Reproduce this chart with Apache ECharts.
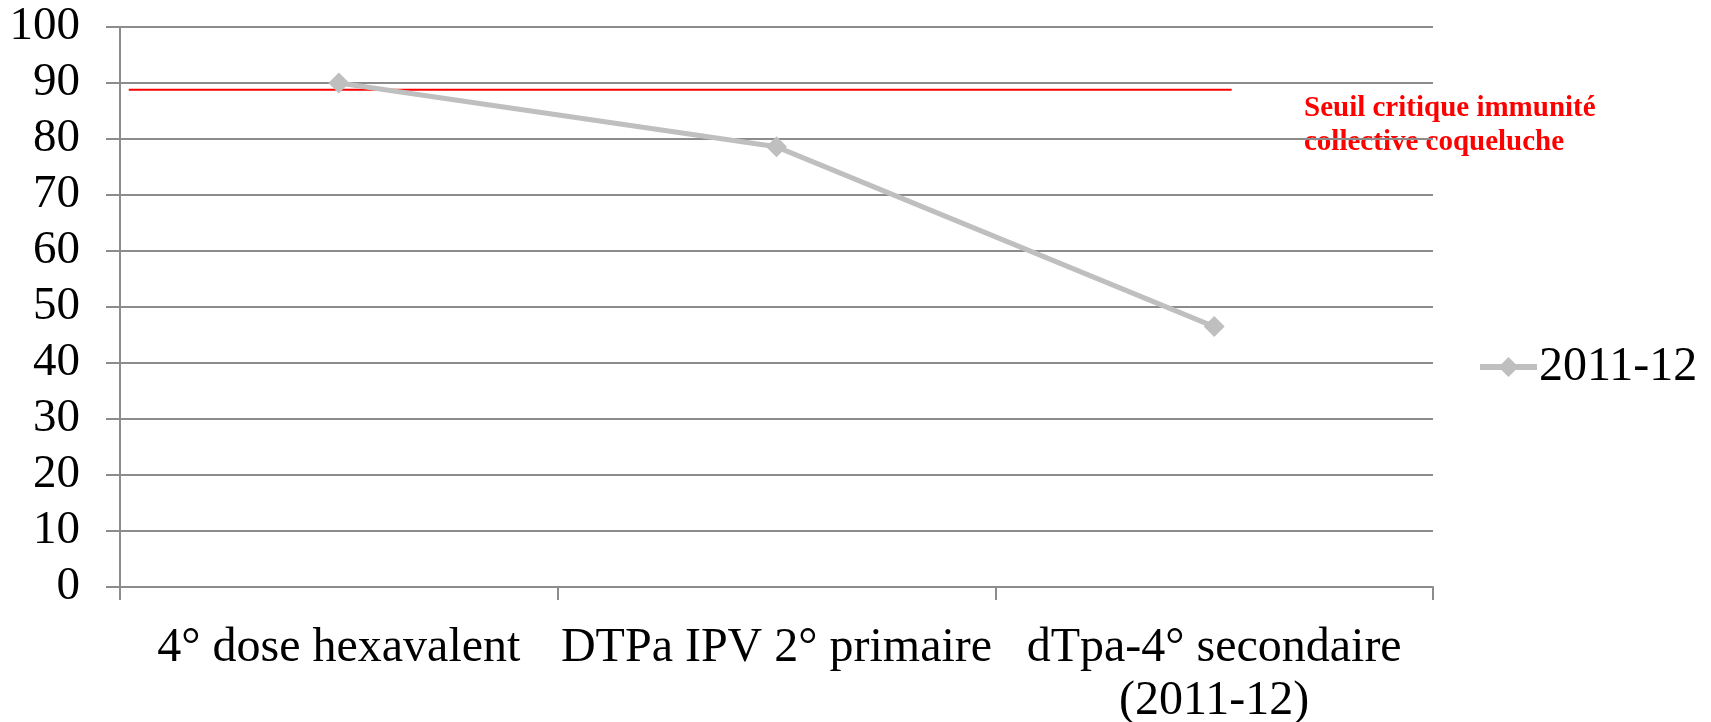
<!DOCTYPE html>
<html>
<head>
<meta charset="utf-8">
<style>
  html, body { margin: 0; padding: 0; background: #fff; }
  #chart { width: 1711px; height: 722px; }
</style>
<script src="https://cdn.jsdelivr.net/npm/echarts@6/dist/echarts.min.js"></script>
</head>
<body>
<div id="chart"></div>
<script>
// valeurs
const categories = ['4° dose hexavalent', 'DTPa IPV 2° primaire', 'dTpa-4° secondaire\n(2011-12)'];
const seriesName = '2011-12';
const coverage = [90, 78.6, 46.5];
const threshold = 88.8;          // seuil critique
const thresholdSpan = [0.02, 2.54]; // début / fin du trait rouge, en unités de catégorie
const thresholdLabel = 'Seuil critique immunité\ncollective coqueluche';

const FONT = "'Liberation Serif', 'Times New Roman', serif";
const GRID_COLOR = '#8c8c8c';

const chart = echarts.init(document.getElementById('chart'));

const option = {
	animation: false,
	backgroundColor: '#fff',
	textStyle: { fontFamily: FONT },
	grid: { left: 120, right: 278, top: 27, bottom: 135, containLabel: false, outerBoundsMode: 'none' },
	legend: {
		data: [seriesName],
		left: 1472,
		top: 338,
		itemWidth: 57,
		itemHeight: 25,
		itemGap: 0,
		lineStyle: { width: 6 },
		textStyle: { fontFamily: FONT, fontSize: 48, color: '#000', padding: [0, 0, 0, -3] }
	},
	xAxis: [{
		type: 'category',
		data: categories,
		boundaryGap: true,
		axisLine: { lineStyle: { color: GRID_COLOR, width: 2 } },
		axisTick: { show: true, length: 13, lineStyle: { color: GRID_COLOR, width: 2 } },
		axisLabel: {
			interval: 0,
			margin: 35,
			fontFamily: FONT,
			fontSize: 48,
			lineHeight: 53,
			color: '#000'
		}
	}, {
		type: 'value',
		min: 0,
		max: 3,
		show: false
	}],
	yAxis: {
		type: 'value',
		min: 0,
		max: 100,
		interval: 10,
		axisLine: { show: true, lineStyle: { color: GRID_COLOR, width: 2 } },
		axisTick: { show: true, length: 14, lineStyle: { color: GRID_COLOR, width: 2 } },
		splitLine: { lineStyle: { color: GRID_COLOR, width: 2 } },
		axisLabel: { margin: 40, fontFamily: FONT, fontSize: 47, color: '#000' }
	},
	graphic: [{
		type: 'text',
		left: 1304,
		top: 92,
		style: {
			text: thresholdLabel,
			fill: '#ff0000',
			font: "bold 29px 'Liberation Serif', 'Times New Roman', serif",
			lineHeight: 34
		}
	}],
	series: [{
		name: 'seuil',
		type: 'line',
		xAxisIndex: 1,
		data: thresholdSpan.map(x => [x, threshold]),
		symbol: 'none',
		lineStyle: { color: '#ff0000', width: 2 },
		z: 2,
		silent: true
	}, {
		name: seriesName,
		type: 'line',
		data: coverage,
		symbol: 'diamond',
		symbolSize: 21,
		itemStyle: { color: '#bfbfbf' },
		lineStyle: { color: '#bfbfbf', width: 5 },
		z: 3
	}]
};

chart.setOption(option);
</script>
</body>
</html>
